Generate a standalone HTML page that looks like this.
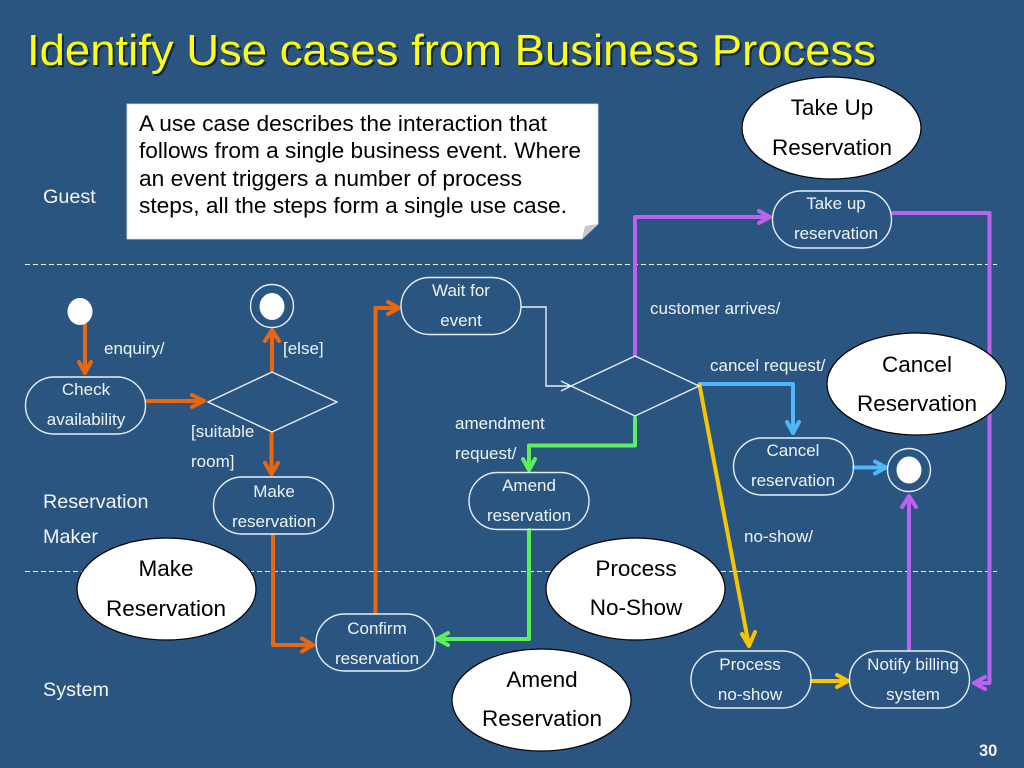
<!DOCTYPE html>
<html><head><meta charset="utf-8">
<style>
html,body{margin:0;padding:0;background:#2a5581;}
svg{display:block;font-family:"Liberation Sans",Arial,sans-serif;}
.n{fill:none;stroke:#e6eef6;stroke-width:1.4}
.t{fill:#eef3f9;font-size:17px}
.c{text-anchor:middle}
.l{fill:#f2f5fa;font-size:19.8px}
.e{fill:#fff;stroke:#000;stroke-width:1.2}
.b{fill:#000;font-size:22.5px;text-anchor:middle}
.k{fill:#000;font-size:22.6px}
.a{fill:none;stroke-width:4;stroke-linejoin:round;stroke-linecap:round}
.o{stroke:#e8670f}.p{stroke:#bd62f0}.u{stroke:#4fb8fa}.g{stroke:#5cf05c}.y{stroke:#f7c400}
</style></head>
<body>
<svg width="1024" height="768" viewBox="0 0 1024 768" xmlns="http://www.w3.org/2000/svg">
<rect width="1024" height="768" fill="#2a5581"/>

<text x="29" y="67" font-size="44" fill="#10233a" textLength="849" lengthAdjust="spacingAndGlyphs">Identify Use cases from Business Process</text>
<text x="27" y="65" font-size="44" fill="#ffff14" textLength="849" lengthAdjust="spacingAndGlyphs">Identify Use cases from Business Process</text>

<path d="M25 264.5H997M25 571.5H997" stroke="#eef3f9" stroke-width="1.1" stroke-dasharray="5 3" fill="none"/>

<!-- note -->
<path d="M127 104H598V224L582 239H127Z" fill="#fff" stroke="#d5e0ea" stroke-width="0.8"/>
<path d="M598 224L582 239L585 226Z" fill="#c4c8cc"/>
<text class="k" x="139" y="131" textLength="408" lengthAdjust="spacingAndGlyphs">A use case describes the interaction that</text>
<text class="k" x="139" y="158" textLength="442" lengthAdjust="spacingAndGlyphs">follows from a single business event. Where</text>
<text class="k" x="139" y="186" textLength="383" lengthAdjust="spacingAndGlyphs">an event triggers a number of process</text>
<text class="k" x="139" y="213" textLength="428" lengthAdjust="spacingAndGlyphs">steps, all the steps form a single use case.</text>

<!-- swimlane labels -->
<text class="l" x="43" y="203">Guest</text>
<text class="l" x="43" y="508">Reservation</text>
<text class="l" x="43" y="543">Maker</text>
<text class="l" x="43" y="696">System</text>

<!-- connectors -->
<path class="a o" d="M85 324V373M79 362L85 373L91 362"/>
<path class="a o" d="M147 401H204M192 395L204 401L192 407"/>
<path class="a o" d="M272 370V331M265 341L272 330L279 341"/>
<path class="a o" d="M271.500 434V474M265 463L271.500 474L278 463"/>
<path class="a o" d="M273 535V645H313M302 638.500L313 645L302 651.500"/>
<path class="a o" d="M375.500 613V308H399M388 302L399 308L388 314"/>
<path d="M521 307H546V386H571M561 381L571 386L561 391" fill="none" stroke="#e6eef6" stroke-width="1.4"/>
<path class="a p" d="M635 355V217H770M759 211L770 217L759 223"/>
<path class="a p" d="M893 213H989.500V683H974M985 677L974 683L985 689"/>
<path class="a p" d="M909 650V496M902 507L909 496L916 507"/>
<path class="a u" d="M700 384H793V433M787 422L793 433L799 422"/>
<path class="a u" d="M854 467.500H886M875 461.500L886 467.500L875 473.500"/>
<path class="a g" d="M635 418V445.500H529V470M523 459L529 470L535 459"/>
<path class="a g" d="M529 530V639H437M448 633L437 639L448 645"/>
<path class="a y" d="M699.500 385L749 646M742 634L749 646L755 632"/>
<path class="a y" d="M812 681H848M837 675L848 681L837 687"/>

<!-- diamonds -->
<path class="n" d="M208 402L272 372L337 402L272 432Z"/>
<path class="n" d="M571 386L635 356L699 386L635 416Z"/>

<!-- pseudostates -->
<ellipse cx="80" cy="311.500" rx="12.500" ry="13.500" fill="#fff"/>
<circle class="n" cx="272" cy="306" r="21.500"/>
<ellipse cx="272" cy="306.500" rx="12.500" ry="13.500" fill="#fff"/>
<circle class="n" cx="909" cy="470" r="21.500"/>
<ellipse cx="909" cy="470" rx="12.500" ry="13.500" fill="#fff"/>

<!-- activity nodes -->
<rect class="n" x="25.500" y="377" width="120" height="57" rx="28.500"/>
<rect class="n" x="213.500" y="477" width="120" height="57" rx="28.500"/>
<rect class="n" x="401" y="277.500" width="120" height="57" rx="28.500"/>
<rect class="n" x="772.500" y="191" width="119" height="57" rx="28.500"/>
<rect class="n" x="733.500" y="438" width="120" height="57" rx="28.500"/>
<rect class="n" x="469" y="472.500" width="120" height="57" rx="28.500"/>
<rect class="n" x="316" y="614" width="119" height="57" rx="28.500"/>
<rect class="n" x="691" y="651" width="120" height="57" rx="28.500"/>
<rect class="n" x="849.500" y="651" width="120" height="57" rx="28.500"/>

<text class="t c" x="86" y="395">Check</text><text class="t c" x="86" y="425">availability</text>
<text class="t c" x="274" y="497">Make</text><text class="t c" x="274" y="527">reservation</text>
<text class="t c" x="461" y="296">Wait for</text><text class="t c" x="461" y="326">event</text>
<text class="t c" x="836" y="209">Take up</text><text class="t c" x="836" y="239">reservation</text>
<text class="t c" x="793" y="456">Cancel</text><text class="t c" x="793" y="486">reservation</text>
<text class="t c" x="529" y="491">Amend</text><text class="t c" x="529" y="521">reservation</text>
<text class="t c" x="377" y="634">Confirm</text><text class="t c" x="377" y="664">reservation</text>
<text class="t c" x="750" y="670">Process</text><text class="t c" x="750" y="700">no-show</text>
<text class="t c" x="913" y="670">Notify billing</text><text class="t c" x="913" y="700">system</text>

<!-- transition labels -->
<text class="t" x="104" y="354">enquiry/</text>
<text class="t" x="283" y="354">[else]</text>
<text class="t" x="191" y="437">[suitable</text>
<text class="t" x="191" y="467">room]</text>
<text class="t" x="650" y="314">customer arrives/</text>
<text class="t" x="710" y="371">cancel request/</text>
<text class="t" x="455" y="429">amendment</text>
<text class="t" x="455" y="459">request/</text>
<text class="t" x="744" y="542">no-show/</text>

<!-- use case ellipses -->
<ellipse class="e" cx="831.500" cy="128" rx="89.500" ry="51"/>
<text class="b" x="832" y="115">Take Up</text><text class="b" x="832" y="155">Reservation</text>
<ellipse class="e" cx="916.500" cy="384" rx="89.500" ry="51"/>
<text class="b" x="917" y="372">Cancel</text><text class="b" x="917" y="411">Reservation</text>
<ellipse class="e" cx="166.500" cy="589" rx="89.500" ry="51"/>
<text class="b" x="166" y="576">Make</text><text class="b" x="166" y="616">Reservation</text>
<ellipse class="e" cx="635.500" cy="589" rx="89.500" ry="51"/>
<text class="b" x="636" y="576">Process</text><text class="b" x="636" y="615">No-Show</text>
<ellipse class="e" cx="541.500" cy="700" rx="89.500" ry="51"/>
<text class="b" x="542" y="687">Amend</text><text class="b" x="542" y="726">Reservation</text>

<text x="979" y="756" font-size="16.500" font-weight="bold" fill="#f2f5fa">30</text>
</svg>
</body></html>
